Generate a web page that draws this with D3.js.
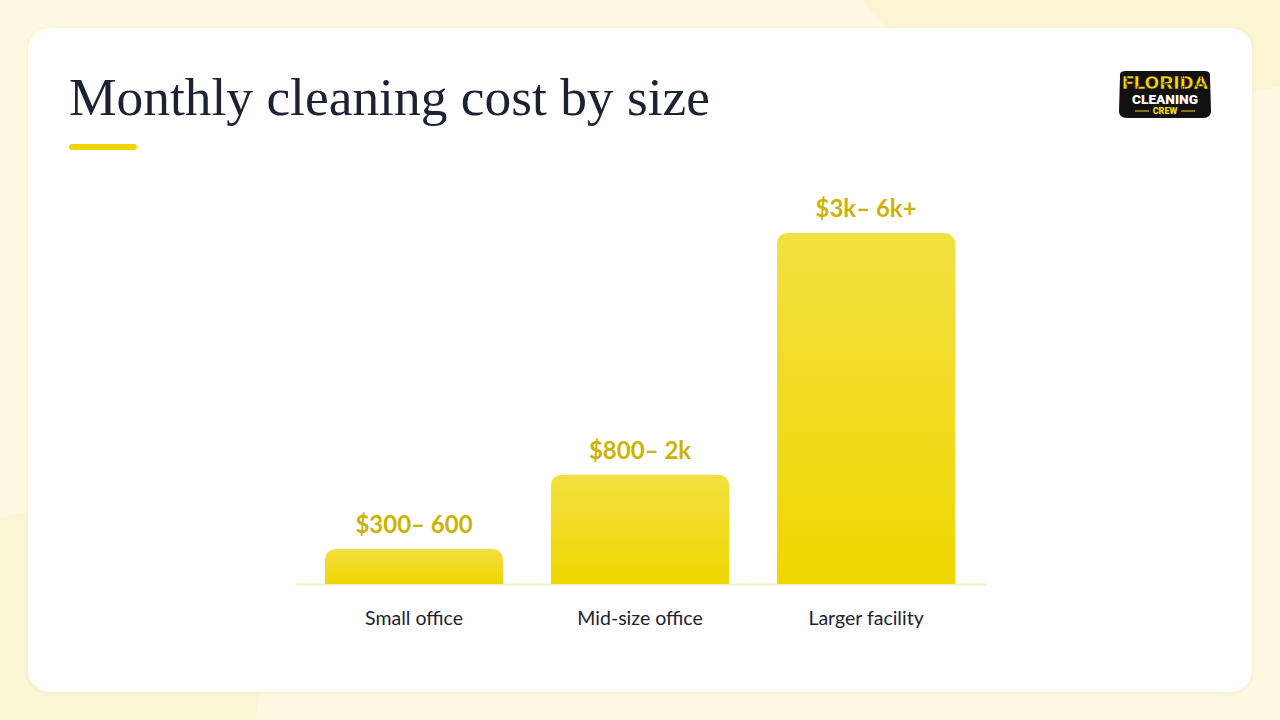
<!DOCTYPE html>
<html><head><meta charset="utf-8">
<script src="https://cdn.jsdelivr.net/npm/d3@7/dist/d3.min.js"></script>
<style>html,body{margin:0;padding:0;background:#fdf8e0;}svg{display:block;}</style>
</head><body>
<svg id="chart" width="1280" height="720"></svg>
<script>
const categories = ["Small office", "Mid-size office", "Larger facility"];
const values = [450, 1400, 4500];
const valueLabels = ["$300\u2013 600", "$800\u2013 2k", "$3k\u2013 6k+"];
const title = "Monthly cleaning cost by size";

const svg = d3.select("#chart");
const defs = svg.append("defs");

// background
svg.append("rect").attr("width",1280).attr("height",720).attr("fill","#fdf8e1");
svg.append("ellipse").attr("cx",1150).attr("cy",-40).attr("rx",300).attr("ry",140).attr("fill","#faf4cf").attr("opacity",0.8);
svg.append("ellipse").attr("cx",60).attr("cy",680).attr("rx",200).attr("ry",170).attr("fill","#faf4d2").attr("opacity",0.9);

// card
const shadow = defs.append("filter").attr("id","sh").attr("x","-5%").attr("y","-5%").attr("width","110%").attr("height","110%");
shadow.append("feDropShadow").attr("dx",0).attr("dy",1).attr("stdDeviation",2).attr("flood-color","#e8dfa8").attr("flood-opacity",0.4);
svg.append("rect").attr("x",28).attr("y",28).attr("width",1224).attr("height",664).attr("rx",22)
  .attr("fill","#ffffff").attr("filter","url(#sh)");

// title
svg.append("text").attr("x",69).attr("y",115).text(title)
  .attr("font-family","'Liberation Serif','DejaVu Serif',serif").attr("font-size",53)
  .attr("fill","#1b2233").attr("textLength",641).attr("lengthAdjust","spacingAndGlyphs");
svg.append("rect").attr("x",69).attr("y",144).attr("width",68).attr("height",6).attr("rx",3).attr("fill","#efd600");

// logo
const logo = svg.append("g").attr("transform","translate(1165,95)");
logo.append("path").attr("d","M-45,-18 Q-46,-24 -40,-24 L40,-24 Q46,-24 45,-18 L46,16 Q46,23 38,23 L-38,23 Q-46,23 -46,16 Z").attr("fill","#111");
logo.append("text").attr("y",-6).attr("text-anchor","middle").text("FLORIDA")
  .attr("font-family","Roboto,sans-serif").attr("font-weight",900).attr("font-size",19).attr("fill","#f5d800")
  .attr("stroke","#111").attr("stroke-width",0.6).attr("textLength",86).attr("lengthAdjust","spacingAndGlyphs");
logo.append("text").attr("y",9).attr("text-anchor","middle").text("CLEANING")
  .attr("font-family","Roboto,sans-serif").attr("font-weight",900).attr("font-size",12).attr("fill","#ffffff")
  .attr("textLength",66).attr("lengthAdjust","spacingAndGlyphs");
logo.append("text").attr("y",19).attr("text-anchor","middle").text("CREW")
  .attr("font-family","Roboto,sans-serif").attr("font-weight",900).attr("font-size",9).attr("fill","#f5d800");
logo.append("line").attr("x1",-30).attr("x2",-16).attr("y1",16).attr("y2",16).attr("stroke","#f5d800").attr("stroke-width",1);
logo.append("line").attr("x1",16).attr("x2",30).attr("y1",16).attr("y2",16).attr("stroke","#f5d800").attr("stroke-width",1);

// scales
const x = d3.scaleBand().domain(categories).range([302.4, 977.7]).paddingInner(0.212).paddingOuter(0.1);
const y = d3.scaleLinear().domain([0, 4500]).range([584, 233]);

const grad = defs.append("linearGradient").attr("id","bg").attr("x1",0).attr("y1",0).attr("x2",0).attr("y2",1);
grad.append("stop").attr("offset","0%").attr("stop-color","#f2e040");
grad.append("stop").attr("offset","100%").attr("stop-color","#efd700");

// baseline
svg.append("line").attr("x1",296).attr("x2",986).attr("y1",584.5).attr("y2",584.5)
  .attr("stroke","#f7efc4").attr("stroke-width",2);

function barPath(x0, y0, w, h, r){
  r = Math.min(r, h, w/2);
  return `M${x0},${y0+h} L${x0},${y0+r} Q${x0},${y0} ${x0+r},${y0} L${x0+w-r},${y0} Q${x0+w},${y0} ${x0+w},${y0+r} L${x0+w},${y0+h} Z`;
}

svg.append("g").selectAll("path").data(categories).join("path")
  .attr("d",(d,i)=>barPath(x(d), y(values[i]), x.bandwidth(), y(0)-y(values[i]), 12))
  .attr("fill","url(#bg)");

svg.append("g").selectAll("text").data(categories).join("text")
  .attr("x",d=>x(d)+x.bandwidth()/2).attr("y",(d,i)=>y(values[i])-16)
  .attr("text-anchor","middle").text((d,i)=>valueLabels[i])
  .attr("font-family","Lato,'Open Sans',sans-serif").attr("font-weight",700).attr("font-size",24)
  .attr("fill","#cbb300");

svg.append("g").selectAll("text").data(categories).join("text")
  .attr("x",d=>x(d)+x.bandwidth()/2).attr("y",625)
  .attr("text-anchor","middle").text(d=>d)
  .attr("font-family","Lato,'Open Sans',sans-serif").attr("font-size",19.5)
  .attr("fill","#1b2233");
</script>
</body></html>
